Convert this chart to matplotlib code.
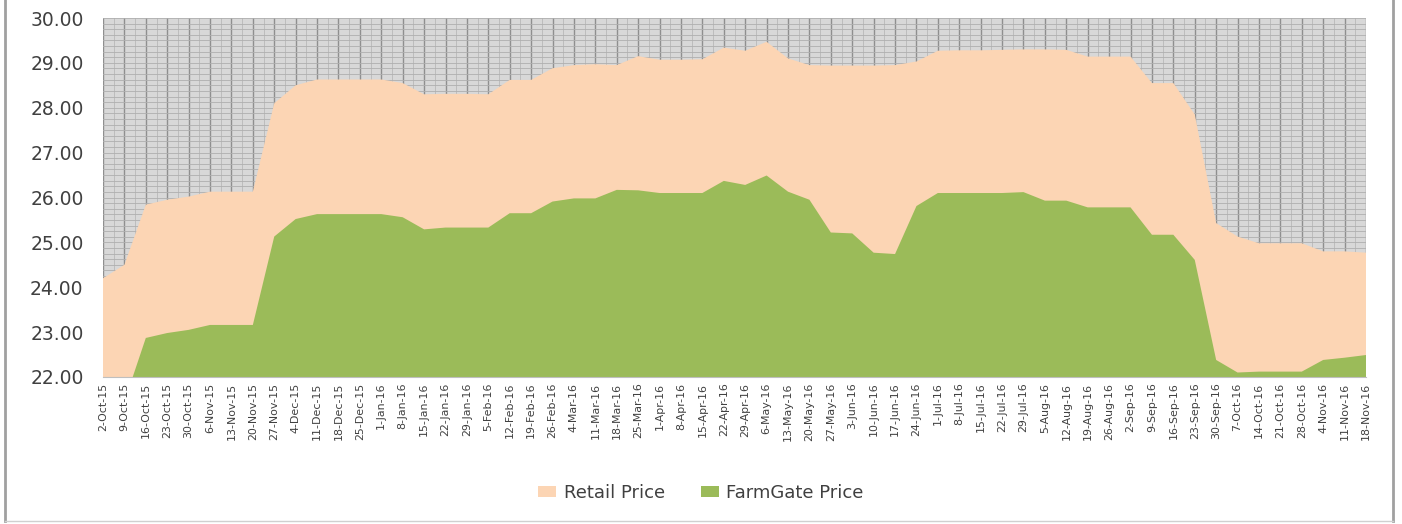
import matplotlib
matplotlib.use("Agg")
import matplotlib.pyplot as plt
from matplotlib.lines import Line2D
from matplotlib.patches import Patch
import numpy as np

dates = ["2-Oct-15", "9-Oct-15", "16-Oct-15", "23-Oct-15", "30-Oct-15", "6-Nov-15", "13-Nov-15",
         "20-Nov-15", "27-Nov-15", "4-Dec-15", "11-Dec-15", "18-Dec-15", "25-Dec-15", "1-Jan-16",
         "8-Jan-16", "15-Jan-16", "22-Jan-16", "29-Jan-16", "5-Feb-16", "12-Feb-16", "19-Feb-16",
         "26-Feb-16", "4-Mar-16", "11-Mar-16", "18-Mar-16", "25-Mar-16", "1-Apr-16", "8-Apr-16",
         "15-Apr-16", "22-Apr-16", "29-Apr-16", "6-May-16", "13-May-16", "20-May-16", "27-May-16",
         "3-Jun-16", "10-Jun-16", "17-Jun-16", "24-Jun-16", "1-Jul-16", "8-Jul-16", "15-Jul-16",
         "22-Jul-16", "29-Jul-16", "5-Aug-16", "12-Aug-16", "19-Aug-16", "26-Aug-16", "2-Sep-16",
         "9-Sep-16", "16-Sep-16", "23-Sep-16", "30-Sep-16", "7-Oct-16", "14-Oct-16", "21-Oct-16",
         "28-Oct-16", "4-Nov-16", "11-Nov-16", "18-Nov-16"]

retail = [24.20, 24.50, 25.84, 25.95, 26.02, 26.13, 26.13, 26.13,
          28.10, 28.50, 28.63, 28.63, 28.63, 28.63,
          28.55, 28.30, 28.31, 28.31, 28.30,
          28.62, 28.62, 28.88, 28.95, 28.97, 28.95,
          29.15, 29.07, 29.07, 29.08, 29.34, 29.27, 29.47,
          29.10, 28.95, 28.94, 28.94, 28.94, 28.95, 29.03,
          29.27, 29.28, 29.28, 29.29, 29.30, 29.30, 29.29,
          29.14, 29.14, 29.14, 28.55, 28.55, 27.85,
          25.43, 25.13, 24.98, 24.98, 24.98, 24.80, 24.80, 24.77]

farmgate = [21.40, 21.45, 22.87, 22.98, 23.05, 23.16, 23.16, 23.16,
            25.13, 25.52, 25.63, 25.63, 25.63, 25.63,
            25.56, 25.29, 25.33, 25.33, 25.33,
            25.65, 25.65, 25.91, 25.98, 25.98, 26.17,
            26.16, 26.10, 26.10, 26.10, 26.37, 26.28, 26.49,
            26.13, 25.95, 25.22, 25.20, 24.77, 24.74, 25.81,
            26.10, 26.10, 26.10, 26.10, 26.12, 25.93, 25.93,
            25.78, 25.78, 25.78, 25.17, 25.17, 24.61,
            22.38, 22.10, 22.12, 22.12, 22.12, 22.38, 22.43, 22.49]

y_ticks = [22, 23, 24, 25, 26, 27, 28, 29, 30]
series_names = ["Retail Price", "FarmGate Price"]

c_retail = "#FCD5B4"
c_farm = "#9BBB59"
txt = "#404040"

plt.rcParams['font.family'] = ['DejaVu Sans']

W, H = 1402, 524
fig = plt.figure(figsize=(W / 100, H / 100), dpi=100)
fig.patch.set_facecolor("white")

x0, x1, yt, yb = 103, 1366, 18, 377
ax = fig.add_axes([x0 / W, 1 - yb / H, (x1 - x0) / W, (yb - yt) / H])
ax.set_facecolor("#D8D8D8")

x = np.arange(len(dates))
ax.fill_between(x, retail, 0, color=c_retail, linewidth=0, zorder=3)
ax.fill_between(x, farmgate, 0, color=c_farm, linewidth=0, zorder=4)

ax.set_xlim(0, len(dates) - 1)
ax.set_ylim(22, 30)
ax.set_yticks(y_ticks)
ax.set_yticklabels([f"{v:.2f}" for v in y_ticks], fontsize=13.5, color=txt)
ax.set_xticks(x)
ax.set_xticklabels(dates, rotation=90, fontsize=7.9, color=txt)
ax.tick_params(axis='y', length=0, pad=14)
ax.tick_params(axis='x', length=0, pad=4)

# patterned background grid
ax.set_xticks(np.arange(0, len(dates) - 1, 0.5), minor=True)
ax.set_yticks(np.arange(22, 30.01, 0.125), minor=True)
ax.tick_params(which='minor', length=0)
ax.grid(which='major', axis='x', color="#8f8f8f", linewidth=1.0, zorder=1)
ax.grid(which='minor', axis='x', color="#b8b8b8", linewidth=0.6, zorder=1)
ax.grid(which='minor', axis='y', color="#afafaf", linewidth=0.6, zorder=1)
ax.grid(which='major', axis='y', color="#afafaf", linewidth=0.6, zorder=1)
ax.set_axisbelow(True)

for s in ["top", "right", "left"]:
    ax.spines[s].set_visible(False)
ax.spines["bottom"].set_color("#BFBFBF")
ax.spines["bottom"].set_zorder(5)

handles = [Patch(facecolor=c_retail, edgecolor='none'), Patch(facecolor=c_farm, edgecolor='none')]
fig.legend(handles, series_names, loc='center', bbox_to_anchor=(0.5, 1 - 493 / H),
           ncol=2, frameon=False, fontsize=13, labelcolor=txt,
           handlelength=1.0, handleheight=0.6, handletextpad=0.4, columnspacing=2.0)

# outer chart border
fr = "#A0A0A0"
fig.add_artist(Line2D([5 / W, 5 / W], [1 - 521 / H, 1.0], transform=fig.transFigure, color=fr, lw=2))
fig.add_artist(Line2D([1393 / W, 1393 / W], [1 - 521 / H, 1.0], transform=fig.transFigure, color=fr, lw=2))
fig.add_artist(Line2D([5 / W, 1393 / W], [1 - 521 / H, 1 - 521 / H], transform=fig.transFigure, color="#D0D0D0", lw=1))

fig.savefig("out.png", dpi=100)
